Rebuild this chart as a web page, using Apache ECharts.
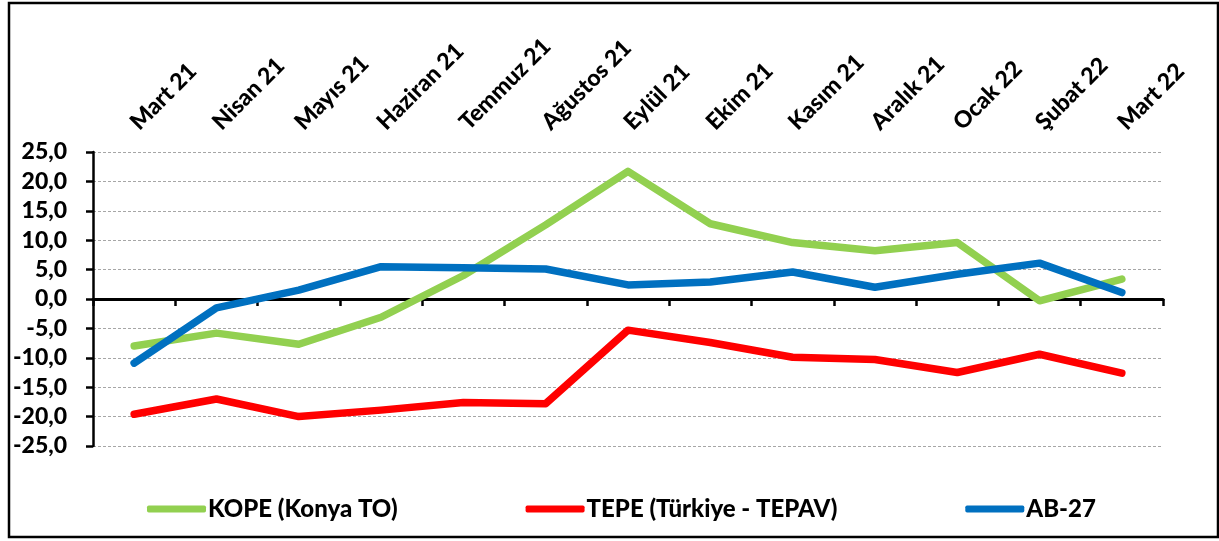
<!DOCTYPE html>
<html>
<head>
<meta charset="utf-8">
<script src="https://cdn.jsdelivr.net/npm/echarts@6/dist/echarts.min.js"></script>
<style>
  html, body { margin: 0; padding: 0; background: #fff; }
  #main { width: 1219px; height: 541px; }
</style>
</head>
<body>
<div id="main"></div>
<script>
// aylar
const months = ['Mart 21', 'Nisan 21', 'Mayıs 21', 'Haziran 21', 'Temmuz 21', 'Ağustos 21', 'Eylül 21',
  'Ekim 21', 'Kasım 21', 'Aralık 21', 'Ocak 22', 'Şubat 22', 'Mart 22']
const kope = [-8.0, -5.8, -7.7, -3.1, 4.0, 12.6, 21.7, 12.8, 9.6, 8.2, 9.6, -0.3, 3.4]
const tepe = [-19.6, -17.0, -20.0, -18.9, -17.6, -17.8, -5.3, -7.4, -9.9, -10.3, -12.5, -9.4, -12.6]
const ab27 = [-10.9, -1.5, 1.5, 5.5, 5.3, 5.1, 2.4, 2.9, 4.6, 2.0, 4.2, 6.1, 1.1]

const FONT = 'Lato'
const chart = echarts.init(document.getElementById('main'))

function lineSeries(name, data, color) {
  return {
    name: name,
    type: 'line',
    xAxisIndex: 1,
    data: data,
    symbol: 'none',
    lineStyle: { color: color, width: 7.5, cap: 'round', join: 'round' },
    itemStyle: { color: color }
  }
}

chart.setOption({
  animation: false,
  textStyle: { fontFamily: FONT },
  graphic: [{
    type: 'rect',
    shape: { x: 9, y: 3, width: 1209, height: 534 },
    style: { fill: 'none', stroke: '#000', lineWidth: 2.5 },
    silent: true
  }],
  grid: { left: 93, right: 56, top: 152, bottom: 95 },
  legend: {
    left: 142,
    top: 492,
    itemWidth: 59,
    itemHeight: 7,
    itemGap: 128,
    icon: 'roundRect',
    textStyle: { fontFamily: FONT, fontWeight: 900, fontSize: 24, color: '#000', padding: [0, 0, 0, -3] },
    data: ['KOPE (Konya TO)', 'TEPE (Türkiye - TEPAV)', 'AB-27']
  },
  xAxis: [{
    // sadece etiketler (üstte)
    type: 'category',
    position: 'top',
    data: months,
    axisLine: { show: false, onZero: false },
    axisTick: { show: false },
    axisLabel: {
      rotate: -45,
      interval: 0,
      margin: 26,
      fontFamily: FONT,
      fontWeight: 900,
      fontSize: 23,
      color: '#000'
    },
    splitLine: { show: false }
  }, {
    // sıfır çizgisi + tikler
    type: 'category',
    position: 'bottom',
    data: months,
    axisLine: { show: true, onZero: true, lineStyle: { color: '#000', width: 3 } },
    axisTick: { show: true, length: 7, lineStyle: { color: '#000', width: 2.5 } },
    axisLabel: { show: false },
    splitLine: { show: false }
  }],
  yAxis: {
    type: 'value',
    min: -25,
    max: 25,
    interval: 5,
    axisLine: { show: true, onZero: false, lineStyle: { color: '#000', width: 2.5 } },
    axisTick: { show: true, length: 7, lineStyle: { color: '#000', width: 2.5 } },
    axisLabel: {
      margin: 26,
      fontFamily: FONT,
      fontWeight: 900,
      fontSize: 23,
      color: '#000',
      formatter: function (v) { return v.toFixed(1).replace('.', ',') }
    },
    splitLine: { show: true, lineStyle: { color: '#a6a6a6', width: 1, type: [3, 2] } }
  },
  series: [
    lineSeries('KOPE (Konya TO)', kope, '#92d050'),
    lineSeries('TEPE (Türkiye - TEPAV)', tepe, '#ff0000'),
    lineSeries('AB-27', ab27, '#0070c0')
  ]
})
</script>
</body>
</html>
